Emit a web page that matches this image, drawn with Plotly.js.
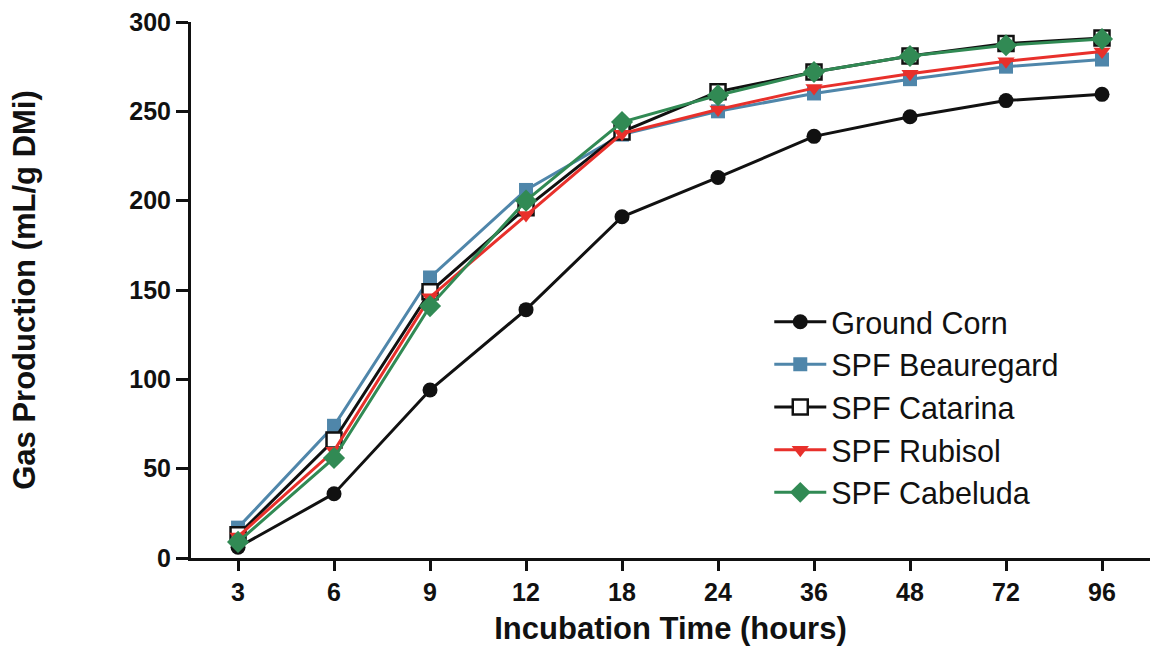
<!DOCTYPE html>
<html>
<head>
<meta charset="utf-8">
<script src="https://cdn.plot.ly/plotly-3.0.1.min.js"></script>
<style>
  html, body { margin: 0; padding: 0; background: #ffffff; }
  #chart { width: 1151px; height: 651px; }
</style>
</head>
<body>
<div id="chart"></div>
<script>
// Categories (incubation time, hours)
const hours = ['3', '6', '9', '12', '18', '24', '36', '48', '72', '96'];

// Gas production (mL/g DMi) per series
const groundCorn = [6, 36, 94, 139, 191, 213, 236, 247, 256, 259.5];
const spfBeauregard = [17, 74, 157, 206, 237, 250, 260, 268, 275, 279];
const spfCatarina = [13, 66, 149, 196, 238.5, 261, 272, 281, 288, 291];
const spfRubisol = [12, 60, 146, 192, 237.5, 251, 263, 271, 278, 283.5];
const spfCabeluda = [9, 56, 141, 200, 244, 259, 272, 281, 287, 290.5];

const yTicks = [0, 50, 100, 150, 200, 250, 300];

const FONT = 'Liberation Sans, Arial, Helvetica, sans-serif';

function series(name, y, color, symbol, size, fill, mlw) {
  return {
    type: 'scatter',
    mode: 'lines+markers',
    name: name,
    x: hours,
    y: y,
    cliponaxis: false,
    line: { color: color, width: 3 },
    marker: {
      symbol: symbol,
      size: size,
      color: fill,
      line: { color: color, width: mlw }
    }
  };
}

const data = [
  series('Ground Corn', groundCorn, '#111111', 'circle', 15, '#111111', 0),
  series('SPF Beauregard', spfBeauregard, '#4f86aa', 'square', 14, '#4f86aa', 0),
  series('SPF Catarina', spfCatarina, '#111111', 'square', 15, '#ffffff', 2.5),
  series('SPF Rubisol', spfRubisol, '#e8302b', 'triangle-down', 15, '#e8302b', 0),
  series('SPF Cabeluda', spfCabeluda, '#318a54', 'diamond', 17, '#318a54', 0)
];

const layout = {
  width: 1151,
  height: 651,
  paper_bgcolor: '#ffffff',
  plot_bgcolor: '#ffffff',
  margin: { l: 191, r: 1, t: 22, b: 93 },
  font: { family: FONT, color: '#111111' },
  showlegend: true,
  legend: {
    x: 0.603,
    y: 0.49,
    xanchor: 'left',
    yanchor: 'top',
    bgcolor: 'rgba(0,0,0,0)',
    font: { family: FONT, size: 30.5, color: '#111111' },
    itemwidth: 52,
    tracegroupgap: 0
  },
  xaxis: {
    type: 'category',
    categoryorder: 'array',
    categoryarray: hours,
    range: [-0.49, 9.5],
    showgrid: false,
    zeroline: false,
    showline: true,
    linecolor: '#111111',
    linewidth: 3,
    ticks: 'outside',
    ticklen: 10,
    tickwidth: 3,
    tickcolor: '#111111',
    tickfont: { family: FONT, size: 25, color: '#111111', weight: 'bold' },
    title: {
      text: '<b>Incubation Time (hours)</b>',
      font: { family: FONT, size: 31, color: '#111111' },
      standoff: 13
    }
  },
  yaxis: {
    range: [0, 300],
    tickvals: yTicks,
    ticktext: yTicks.map(String),
    showgrid: false,
    zeroline: false,
    showline: true,
    linecolor: '#111111',
    linewidth: 3,
    ticks: 'outside',
    ticklen: 12,
    tickwidth: 3,
    tickcolor: '#111111',
    tickfont: { family: FONT, size: 25, color: '#111111', weight: 'bold' },
    title: {
      text: '<b>Gas Production (mL/g DMi)</b>',
      font: { family: FONT, size: 31, color: '#111111' },
      standoff: 85
    }
  }
};

Plotly.newPlot('chart', data, layout, { displayModeBar: false, staticPlot: true });
</script>
</body>
</html>
